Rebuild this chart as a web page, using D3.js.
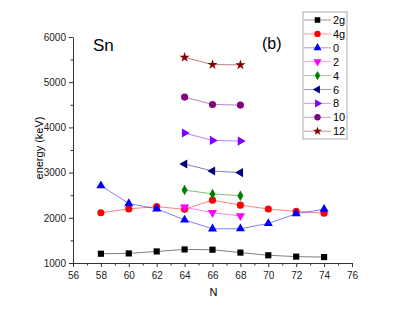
<!DOCTYPE html>
<html>
<head>
<meta charset="utf-8">
<script src="https://cdn.jsdelivr.net/npm/d3@7"></script>
<style>
  body { margin: 0; background: #fff; }
  svg { display: block; }
</style>
</head>
<body>
<div id="chart"></div>
<script>
const width = 409, height = 316;
const margin = { top: 37, right: 57, bottom: 53, left: 73 };

const nFull = [58, 60, 62, 64, 66, 68, 70, 72, 74];
const nMid = [64, 66, 68];

const e2g = [1205, 1212, 1256, 1300, 1294, 1230, 1171, 1141, 1131];
const e4g = [2111, 2197, 2248, 2187, 2391, 2280, 2195, 2142, 2102];
const e0 = [2710, 2315, 2200, 1953, 1757, 1758, 1875, 2090, 2190];
const e2 = [2235, 2112, 2043];
const e4 = [2614, 2529, 2489];
const e6 = [3190, 3035, 3000];
const e8 = [3875, 3712, 3697];
const e10 = [4670, 4507, 4493];
const e12 = [5550, 5390, 5384];

const seriesNames = ["2g", "4g", "0", "2", "4", "6", "8", "10", "12"];
const seriesColors = ["#000000", "#ff0000", "#0000ff", "#ff00ff", "#008000", "#000080", "#8000ff", "#800080", "#800000"];

const xTicks = [56, 58, 60, 62, 64, 66, 68, 70, 72, 74, 76];
const yTicks = [1000, 2000, 3000, 4000, 5000, 6000];

const series = [
  { name: "2g", n: nFull, e: e2g, sym: d3.symbolSquare, size: 38, rot: 0 },
  { name: "4g", n: nFull, e: e4g, sym: d3.symbolCircle, size: 40, rot: 0 },
  { name: "0", n: nFull, e: e0, sym: d3.symbolTriangle, size: 36, rot: 0 },
  { name: "2", n: nMid, e: e2, sym: d3.symbolTriangle, size: 36, rot: 180 },
  { name: "4", n: nMid, e: e4, sym: d3.symbolDiamond, size: 32, rot: 0 },
  { name: "6", n: nMid, e: e6, sym: d3.symbolTriangle, size: 36, rot: -90 },
  { name: "8", n: nMid, e: e8, sym: d3.symbolTriangle, size: 36, rot: 90 },
  { name: "10", n: nMid, e: e10, sym: d3.symbolCircle, size: 40, rot: 0 },
  { name: "12", n: nMid, e: e12, sym: d3.symbolStar, size: 32, rot: 0 }
];
series.forEach(s => { s.color = seriesColors[seriesNames.indexOf(s.name)]; });

const innerW = width - margin.left - margin.right,
      innerH = height - margin.top - margin.bottom;

const svg = d3.select("#chart")
  .append("svg")
  .attr("width", width)
  .attr("height", height)
  .style("font-family", "Arial, 'Liberation Sans', sans-serif");

const g = svg.append("g")
  .attr("transform", `translate(${margin.left},${margin.top})`);

const x = d3.scaleLinear().domain([56, 76]).range([0, innerW]);
const y = d3.scaleLinear().domain([1000, 6000]).range([innerH, 0]);

// axes with minor ticks
const xAxis = g.append("g")
  .attr("transform", `translate(0,${innerH})`)
  .call(d3.axisBottom(x).tickValues(xTicks).tickSize(4).tickSizeOuter(0).tickFormat(d3.format("d")));
xAxis.selectAll("text").style("font-size", "10px").attr("dy", "0.9em").attr("fill", "#222");
g.append("g")
  .attr("transform", `translate(0,${innerH})`)
  .call(d3.axisBottom(x).tickValues(d3.range(57, 76, 2)).tickSize(2.5).tickFormat(""))
  .select(".domain").remove();

const yAxis = g.append("g")
  .call(d3.axisLeft(y).tickValues(yTicks).tickSize(4).tickSizeOuter(0).tickFormat(d3.format("d")));
yAxis.selectAll("text").style("font-size", "10px").attr("fill", "#222");
g.append("g")
  .call(d3.axisLeft(y).tickValues(d3.range(1500, 6000, 1000)).tickSize(2.5).tickFormat(""))
  .select(".domain").remove();

g.selectAll(".domain, .tick line").attr("stroke", "#333");

// axis titles
g.append("text")
  .attr("transform", "rotate(-90)")
  .attr("x", -innerH / 2 + 2)
  .attr("y", -30)
  .attr("text-anchor", "middle")
  .style("font-size", "11px")
  .text("energy (keV)");

g.append("text")
  .attr("x", innerW / 2 + 1)
  .attr("y", innerH + 33)
  .attr("text-anchor", "middle")
  .style("font-size", "11px")
  .text("N");

g.append("text")
  .attr("x", 20)
  .attr("y", 14)
  .style("font-size", "17px")
  .text("Sn");

g.append("text")
  .attr("x", 189)
  .attr("y", 12)
  .style("font-size", "16px")
  .text("(b)");

// series
const line = d3.line().x(d => x(d[0])).y(d => y(d[1]));

series.forEach(s => {
  const pts = s.n.map((n, i) => [n, s.e[i]]);
  g.append("path")
    .datum(pts)
    .attr("fill", "none")
    .attr("stroke", s.color)
    .attr("stroke-opacity", 0.5)
    .attr("stroke-width", 1)
    .attr("d", line);
  g.selectAll(null)
    .data(pts)
    .enter()
    .append("path")
    .attr("d", d3.symbol().type(s.sym).size(s.size))
    .attr("transform", d => `translate(${x(d[0])},${y(d[1])}) rotate(${s.rot})`)
    .attr("fill", s.color);
});

// legend
const legend = svg.append("g").attr("transform", "translate(303,12)");
legend.append("rect")
  .attr("width", 44)
  .attr("height", 127)
  .attr("fill", "#fff")
  .attr("stroke", "#aaa");

series.forEach((s, i) => {
  const row = legend.append("g").attr("transform", `translate(0,${8 + i * 13.9})`);
  row.append("line")
    .attr("x1", 1).attr("x2", 28)
    .attr("stroke", s.color)
    .attr("stroke-opacity", 0.4);
  row.append("path")
    .attr("d", d3.symbol().type(s.sym).size(s.size * 0.8))
    .attr("transform", `translate(14.5,0) rotate(${s.rot})`)
    .attr("fill", s.color);
  row.append("text")
    .attr("x", 30)
    .attr("y", 4)
    .style("font-size", "11px")
    .text(s.name);
});
</script>
</body>
</html>
